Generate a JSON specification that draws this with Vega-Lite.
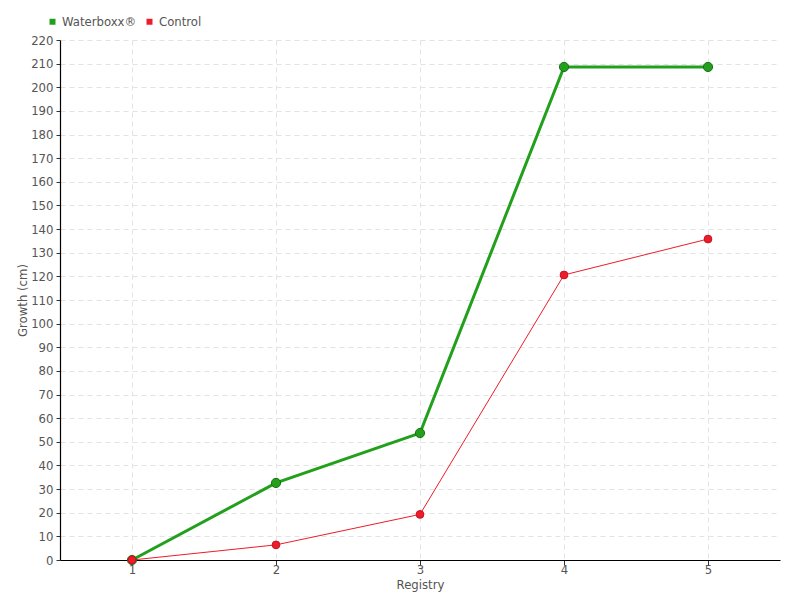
{
  "$schema": "https://vega.github.io/schema/vega-lite/v6.json",
  "width": 720,
  "height": 520,
  "autosize": {"type": "none"},
  "padding": {"left": 60, "top": 40, "right": 20, "bottom": 40},
  "background": "white",
  "config": {
    "font": "DejaVu Sans Condensed",
    "view": {"stroke": null},
    "axis": {
      "labelColor": "#555555",
      "titleColor": "#555555",
      "labelFontSize": 13,
      "titleFontSize": 13,
      "titleFontWeight": "normal",
      "domainColor": "#000000",
      "domainWidth": 1.2,
      "tickColor": "#333333",
      "tickSize": 5,
      "gridColor": "#e3e3e3",
      "gridDash": [5, 4],
      "gridWidth": 1
    },
    "legend": {"labelColor": "#555555", "labelFontSize": 13}
  },
  "data": {
    "values": [
      {"registry": 1, "series": "Waterboxx®", "growth": 0},
      {"registry": 2, "series": "Waterboxx®", "growth": 32.6},
      {"registry": 3, "series": "Waterboxx®", "growth": 53.7},
      {"registry": 4, "series": "Waterboxx®", "growth": 208.6},
      {"registry": 5, "series": "Waterboxx®", "growth": 208.6},
      {"registry": 1, "series": "Control", "growth": 0},
      {"registry": 2, "series": "Control", "growth": 6.4},
      {"registry": 3, "series": "Control", "growth": 19.3},
      {"registry": 4, "series": "Control", "growth": 120.6},
      {"registry": 5, "series": "Control", "growth": 135.8}
    ]
  },
  "encoding": {
    "x": {
      "field": "registry",
      "type": "quantitative",
      "scale": {"domain": [0.5, 5.5], "nice": false, "zero": false},
      "axis": {"values": [1, 2, 3, 4, 5], "title": "Registry", "titlePadding": 2, "labelPadding": -2, "format": "d"}
    },
    "y": {
      "field": "growth",
      "type": "quantitative",
      "scale": {"domain": [0, 220], "nice": false},
      "axis": {
        "values": [0, 10, 20, 30, 40, 50, 60, 70, 80, 90, 100, 110, 120, 130, 140, 150, 160, 170, 180, 190, 200, 210, 220],
        "title": "Growth (cm)",
        "titlePadding": 1,
        "labelPadding": 3,
        "tickSize": 4
      }
    },
    "color": {
      "field": "series",
      "type": "nominal",
      "scale": {"domain": ["Waterboxx®", "Control"], "range": ["#22a01c", "#ec1c2a"]},
      "legend": {
        "title": null,
        "orient": "none",
        "legendX": -14,
        "legendY": -25,
        "direction": "horizontal",
        "symbolType": "square",
        "symbolSize": 36,
        "symbolStrokeWidth": 0,
        "labelOffset": 3,
        "columnPadding": 6
      }
    }
  },
  "layer": [
    {
      "transform": [{"filter": "datum.series === 'Waterboxx®'"}],
      "mark": {"type": "line", "strokeWidth": 3}
    },
    {
      "transform": [{"filter": "datum.series === 'Control'"}],
      "mark": {"type": "line", "strokeWidth": 1}
    },
    {
      "transform": [{"filter": "datum.series === 'Waterboxx®'"}],
      "mark": {"type": "point", "filled": true, "opacity": 1, "strokeWidth": 1, "shape": "circle", "size": 85, "stroke": "#1a6e16"}
    },
    {
      "transform": [{"filter": "datum.series === 'Control'"}],
      "mark": {"type": "point", "filled": true, "opacity": 1, "strokeWidth": 1, "shape": "circle", "size": 60, "stroke": "#c8101e"}
    }
  ]
}
